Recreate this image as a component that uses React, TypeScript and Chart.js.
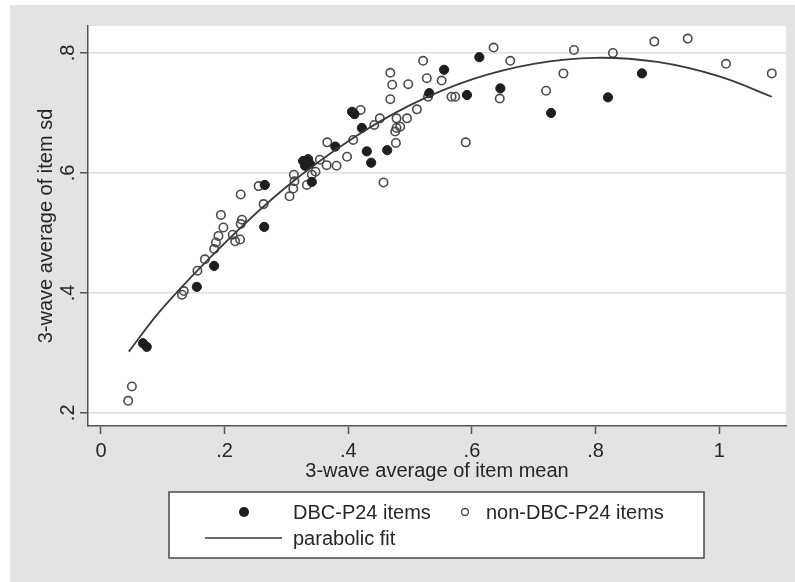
import React, { useEffect, useRef } from "react";
import { Chart, registerables } from "chart.js";

Chart.register(...registerables);

// DBC-P24 items (filled markers): [item mean, item sd]
const dbcX = [0.068, 0.074, 0.155, 0.183, 0.264, 0.265, 0.327, 0.335, 0.330, 0.338, 0.341, 0.379, 0.406, 0.410, 0.422, 0.430, 0.437, 0.463, 0.531, 0.555, 0.592, 0.612, 0.646, 0.728, 0.820, 0.875];
const dbcY = [0.316, 0.310, 0.410, 0.445, 0.510, 0.580, 0.620, 0.623, 0.612, 0.615, 0.585, 0.644, 0.702, 0.698, 0.675, 0.636, 0.617, 0.638, 0.733, 0.772, 0.730, 0.793, 0.741, 0.700, 0.726, 0.766];

// non-DBC-P24 items (hollow markers)
const nonX = [0.044, 0.050, 0.131, 0.134, 0.156, 0.168, 0.183, 0.186, 0.190, 0.194, 0.198, 0.213, 0.217, 0.225, 0.226, 0.228, 0.226, 0.255, 0.263, 0.305, 0.311, 0.312, 0.313, 0.333, 0.341, 0.347, 0.354, 0.365, 0.366, 0.381, 0.398, 0.408, 0.420, 0.442, 0.451, 0.457, 0.468, 0.471, 0.468, 0.477, 0.476, 0.478, 0.478, 0.484, 0.495, 0.497, 0.511, 0.521, 0.527, 0.529, 0.551, 0.567, 0.573, 0.590, 0.635, 0.645, 0.662, 0.720, 0.748, 0.765, 0.828, 0.895, 0.949, 1.011, 1.085];
const nonY = [0.220, 0.244, 0.397, 0.403, 0.437, 0.456, 0.473, 0.484, 0.495, 0.530, 0.509, 0.497, 0.486, 0.489, 0.515, 0.522, 0.564, 0.578, 0.548, 0.561, 0.574, 0.597, 0.586, 0.580, 0.597, 0.602, 0.622, 0.613, 0.651, 0.612, 0.627, 0.655, 0.705, 0.680, 0.691, 0.584, 0.767, 0.747, 0.723, 0.650, 0.669, 0.675, 0.691, 0.677, 0.691, 0.748, 0.706, 0.787, 0.758, 0.727, 0.754, 0.727, 0.727, 0.651, 0.809, 0.724, 0.787, 0.737, 0.766, 0.805, 0.800, 0.819, 0.824, 0.782, 0.766];

// parabolic fit line
const fitX = [0.045, 0.1, 0.2, 0.3, 0.4, 0.5, 0.6, 0.7, 0.8, 0.9, 1.0, 1.085];
const fitY = [0.302, 0.375, 0.483, 0.577, 0.653, 0.713, 0.756, 0.782, 0.792, 0.785, 0.761, 0.727];

const xTicks = [0, 0.2, 0.4, 0.6, 0.8, 1];
const xTickLabels = ["0", ".2", ".4", ".6", ".8", "1"];
const yTicks = [0.2, 0.4, 0.6, 0.8];
const yTickLabels = [".2", ".4", ".6", ".8"];

const xTitle = "3-wave average of item mean";
const yTitle = "3-wave average of item sd";
const legendDbc = "DBC-P24 items";
const legendNon = "non-DBC-P24 items";
const legendFit = "parabolic fit";

const FONT = '20px "Liberation Sans", Arial, sans-serif';
const TEXT = "#262626";
const AXIS = "#555555";

const zip = (xs: number[], ys: number[]) => xs.map((x, i) => ({ x, y: ys[i] }));

export default function App() {
  const ref = useRef<HTMLCanvasElement | null>(null);

  useEffect(() => {
    document.body.style.margin = "0";
    const canvas = ref.current;
    if (!canvas) return;

    const bgPlugin = {
      id: "bg",
      beforeDraw(chart: any) {
        const { ctx, chartArea } = chart;
        ctx.save();
        ctx.fillStyle = "#ffffff";
        ctx.fillRect(0, 0, chart.width, chart.height);
        ctx.fillStyle = "#e3e3e3";
        ctx.fillRect(10, 5, chart.width - 10, chart.height - 5);
        ctx.fillStyle = "#ffffff";
        ctx.fillRect(chartArea.left, chartArea.top, chartArea.right - chartArea.left, chartArea.bottom - chartArea.top);
        ctx.restore();
      },
    };

    const textPlugin = {
      id: "texts",
      afterDraw(chart: any) {
        const { ctx, chartArea } = chart;
        const xs = chart.scales.x;
        const ys = chart.scales.y;
        ctx.save();
        ctx.font = FONT;
        ctx.fillStyle = TEXT;
        ctx.textBaseline = "alphabetic";
        ctx.textAlign = "center";
        // x tick labels
        xTicks.forEach((v, i) => {
          ctx.fillText(xTickLabels[i], xs.getPixelForValue(v), 457);
        });
        // x title
        ctx.fillText(xTitle, (chartArea.left + chartArea.right) / 2, 477);
        // y tick labels (rotated)
        yTicks.forEach((v, i) => {
          ctx.save();
          ctx.translate(74, ys.getPixelForValue(v));
          ctx.rotate(-Math.PI / 2);
          ctx.fillText(yTickLabels[i], 0, 0);
          ctx.restore();
        });
        // y title
        ctx.save();
        ctx.translate(52, (chartArea.top + chartArea.bottom) / 2);
        ctx.rotate(-Math.PI / 2);
        ctx.fillText(yTitle, 0, 0);
        ctx.restore();

        // legend box
        const lx = 169, ly = 492, lw = 535, lh = 66;
        ctx.fillStyle = "#ffffff";
        ctx.fillRect(lx, ly, lw, lh);
        ctx.strokeStyle = "#4a4a4a";
        ctx.lineWidth = 1.5;
        ctx.strokeRect(lx, ly, lw, lh);
        // row 1
        ctx.fillStyle = "#1e1e1e";
        ctx.beginPath();
        ctx.arc(244, 512, 5, 0, Math.PI * 2);
        ctx.fill();
        ctx.strokeStyle = "#4a4a4a";
        ctx.lineWidth = 1.4;
        ctx.beginPath();
        ctx.arc(465, 512, 3.5, 0, Math.PI * 2);
        ctx.stroke();
        ctx.fillStyle = TEXT;
        ctx.textAlign = "left";
        ctx.textBaseline = "middle";
        ctx.fillText(legendDbc, 293, 513);
        ctx.fillText(legendNon, 486, 513);
        // row 2
        ctx.strokeStyle = "#3a3a3a";
        ctx.lineWidth = 1.6;
        ctx.beginPath();
        ctx.moveTo(205, 538);
        ctx.lineTo(282, 538);
        ctx.stroke();
        ctx.fillText(legendFit, 293, 539);
        ctx.restore();
      },
    };

    const chart = new Chart(canvas, {
      type: "scatter",
      data: {
        datasets: [
          {
            type: "line",
            label: legendFit,
            data: zip(fitX, fitY),
            borderColor: "#3a3a3a",
            borderWidth: 1.8,
            pointRadius: 0,
            showLine: true,
            fill: false,
            tension: 0.4,
            order: 0,
          } as any,
          {
            label: legendDbc,
            data: zip(dbcX, dbcY),
            pointRadius: 4.6,
            pointBackgroundColor: "#1e1e1e",
            pointBorderColor: "#1e1e1e",
            pointBorderWidth: 1,
            order: 1,
          },
          {
            label: legendNon,
            data: zip(nonX, nonY),
            pointRadius: 4.2,
            pointBackgroundColor: "rgba(0,0,0,0)",
            pointBorderColor: "#4a4a4a",
            pointBorderWidth: 1.6,
            order: 2,
          },
        ],
      },
      options: {
        responsive: false,
        animation: false,
        layout: { padding: { left: 0, top: 26, right: 9, bottom: 0 } },
        plugins: {
          legend: { display: false },
          tooltip: { enabled: false },
          title: { display: false },
        },
        scales: {
          x: {
            type: "linear",
            min: -0.021,
            max: 1.108,
            afterBuildTicks: (s: any) => {
              s.ticks = xTicks.map((v) => ({ value: v }));
            },
            afterFit: (s: any) => {
              s.height = 156;
            },
            ticks: { display: false },
            grid: {
              drawOnChartArea: false,
              drawTicks: true,
              tickLength: 8,
              tickColor: AXIS,
              tickWidth: 1.5,
            },
            border: { display: true, color: AXIS, width: 1.5 },
          },
          y: {
            type: "linear",
            min: 0.178,
            max: 0.845,
            afterBuildTicks: (s: any) => {
              s.ticks = yTicks.map((v) => ({ value: v }));
            },
            afterFit: (s: any) => {
              s.width = 88;
            },
            ticks: { display: false },
            grid: {
              color: "#dedede",
              lineWidth: 1.5,
              drawTicks: true,
              tickLength: 8,
              tickColor: AXIS,
              tickWidth: 1.5,
            },
            border: { display: true, color: AXIS, width: 1.5 },
          },
        },
      },
      plugins: [bgPlugin, textPlugin],
    });

    return () => {
      chart.destroy();
    };
  }, []);

  return (
    <div style={{ position: "fixed", left: 0, top: 0, width: 795, height: 582 }}>
      <canvas ref={ref} width={795} height={582} style={{ width: 795, height: 582, display: "block" }} />
    </div>
  );
}
